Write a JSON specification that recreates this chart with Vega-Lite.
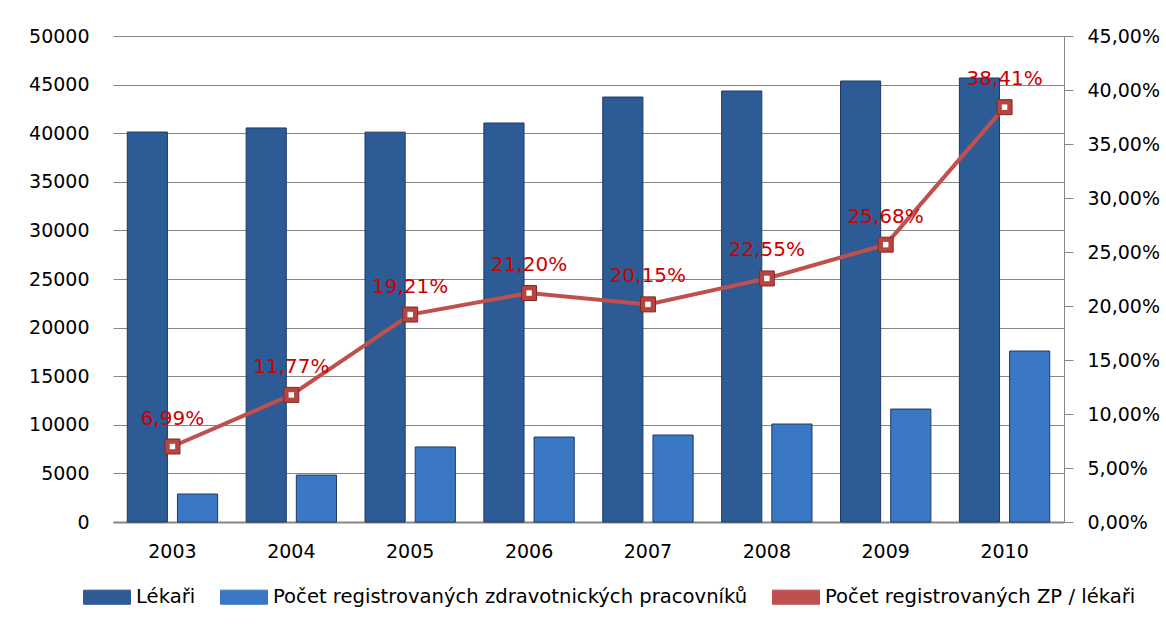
{
  "$schema": "https://vega.github.io/schema/vega-lite/v6.json",
  "width": 951,
  "height": 486,
  "autosize": {"type": "none"},
  "padding": {"left": 113, "top": 36, "right": 102, "bottom": 110},
  "background": "white",
  "config": {
    "font": "DejaVu Sans",
    "view": {"stroke": null},
    "axis": {"labelFont": "DejaVu Sans", "labelFontSize": 19, "labelColor": "#000000"}
  },
  "datasets": {
    "bars": [
      {"year": "2003", "series": "Lékaři", "value": 40120},
      {"year": "2003", "series": "Počet registrovaných zdravotnických pracovníků", "value": 2880},
      {"year": "2004", "series": "Lékaři", "value": 40540},
      {"year": "2004", "series": "Počet registrovaných zdravotnických pracovníků", "value": 4830},
      {"year": "2005", "series": "Lékaři", "value": 40110},
      {"year": "2005", "series": "Počet registrovaných zdravotnických pracovníků", "value": 7720},
      {"year": "2006", "series": "Lékaři", "value": 41050},
      {"year": "2006", "series": "Počet registrovaných zdravotnických pracovníků", "value": 8740},
      {"year": "2007", "series": "Lékaři", "value": 43720},
      {"year": "2007", "series": "Počet registrovaných zdravotnických pracovníků", "value": 8950},
      {"year": "2008", "series": "Lékaři", "value": 44340},
      {"year": "2008", "series": "Počet registrovaných zdravotnických pracovníků", "value": 10080},
      {"year": "2009", "series": "Lékaři", "value": 45370},
      {"year": "2009", "series": "Počet registrovaných zdravotnických pracovníků", "value": 11620},
      {"year": "2010", "series": "Lékaři", "value": 45680},
      {"year": "2010", "series": "Počet registrovaných zdravotnických pracovníků", "value": 17590}
    ],
    "ratio": [
      {"year": "2003", "ratio": 0.0699, "label": "6,99%"},
      {"year": "2004", "ratio": 0.1177, "label": "11,77%"},
      {"year": "2005", "ratio": 0.1921, "label": "19,21%"},
      {"year": "2006", "ratio": 0.2120, "label": "21,20%"},
      {"year": "2007", "ratio": 0.2015, "label": "20,15%"},
      {"year": "2008", "ratio": 0.2255, "label": "22,55%"},
      {"year": "2009", "ratio": 0.2568, "label": "25,68%"},
      {"year": "2010", "ratio": 0.3841, "label": "38,41%"}
    ]
  },
  "layer": [
    {
      "data": {"name": "bars"},
      "mark": {"type": "bar", "stroke": "#1d3a62", "strokeWidth": 1},
      "encoding": {
        "x": {
          "field": "year", "type": "nominal", "sort": null,
          "scale": {"paddingInner": 0.24, "paddingOuter": 0.12},
          "axis": {"title": null, "labelAngle": 0, "ticks": false, "domainColor": "#868686", "domainWidth": 2, "labelPadding": 20}
        },
        "xOffset": {"field": "series", "type": "nominal", "sort": null, "scale": {"paddingInner": 0.2}},
        "y": {
          "field": "value", "type": "quantitative",
          "scale": {"domain": [0, 50000], "nice": false},
          "axis": {"title": null, "values": [0, 5000, 10000, 15000, 20000, 25000, 30000, 35000, 40000, 45000, 50000], "format": "d", "domain": false, "ticks": false, "labelPadding": 24, "gridColor": "#868686", "gridWidth": 1}
        },
        "color": {
          "field": "series", "type": "nominal",
          "scale": {
            "domain": ["Lékaři", "Počet registrovaných zdravotnických pracovníků", "Počet registrovaných ZP / lékaři"],
            "range": ["#2d5b95", "#3a78c6", "#c0504d"]
          },
          "legend": {
            "title": null, "orient": "none", "direction": "horizontal",
            "legendX": -30, "legendY": 537,
            "labelFont": "DejaVu Sans", "labelFontSize": 19.6, "labelColor": "#000000",
            "symbolType": "M-1,-0.3H1V0.3H-1Z", "symbolSize": 2209,
            "symbolStrokeColor": "#1d3a62", "symbolStrokeWidth": 1,
            "columnPadding": 22, "labelOffset": 5, "labelLimit": 600
          }
        }
      }
    },
    {
      "data": {"name": "ratio"},
      "encoding": {
        "x": {"field": "year", "type": "nominal", "sort": null},
        "y": {
          "field": "ratio", "type": "quantitative",
          "scale": {"domain": [0, 0.45], "nice": false},
          "axis": {"title": null, "orient": "right", "values": [0, 0.05, 0.1, 0.15, 0.2, 0.25, 0.3, 0.35, 0.4, 0.45], "labelExpr": "replace(format(datum.value, '.2%'), '.', ',')", "grid": false, "domainColor": "#868686", "domainWidth": 1, "tickColor": "#868686", "tickSize": 9, "labelPadding": 14}
        }
      },
      "layer": [
        {
          "mark": {"type": "line", "color": "#c0504d", "strokeWidth": 4},
          "encoding": {"color": {"datum": "Počet registrovaných ZP / lékaři"}}
        },
        {
          "mark": {"type": "point", "shape": "square", "filled": true, "size": 225, "color": "#b8443f", "stroke": "#7d2a27", "strokeWidth": 1, "opacity": 1}
        },
        {
          "mark": {"type": "point", "shape": "square", "filled": true, "size": 30, "color": "#ffffff", "opacity": 1}
        },
        {
          "mark": {"type": "text", "font": "DejaVu Sans", "fontSize": 20, "color": "#cc0000", "dy": -28, "dx": 0},
          "encoding": {"text": {"field": "label"}}
        }
      ]
    }
  ],
  "resolve": {"scale": {"y": "independent"}}
}
